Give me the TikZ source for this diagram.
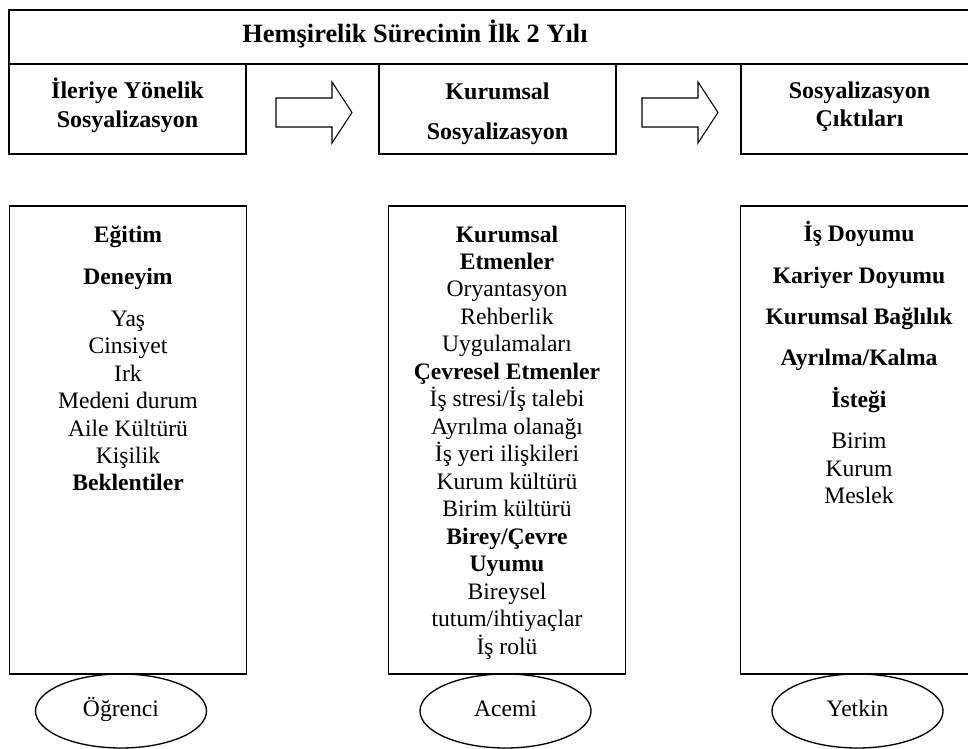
\documentclass[tikz,border=0pt]{standalone}
\usepackage{fontspec}
\setmainfont{Liberation Serif}
\usetikzlibrary{shapes.geometric}

\begin{document}
\begin{tikzpicture}[x=0.75pt,y=-0.75pt,line width=1pt,
  frame/.style={draw,inner sep=0pt,minimum width=177.75pt},
  headbox/.style={frame,minimum height=67.5pt},
  listbox/.style={frame,minimum height=351pt},
  stage/.style={draw,ellipse,inner sep=0pt,minimum width=128.25pt,minimum height=55.5pt,text height=12pt,text depth=3.5pt,font=\fontsize{17.7}{20.6}\selectfont},
  headtxt/.style={anchor=north,inner sep=0pt,align=center,font=\fontsize{18}{21.5}\selectfont\bfseries},
  listtxt/.style={anchor=north,inner sep=0pt,align=center,font=\fontsize{17.7}{20.6}\selectfont},
  blockarr/.style={draw,line width=0.8pt,fill=white}]
  \useasboundingbox (0,0) rectangle (968,749);

  % title bar
  \node[frame,minimum width=726.75pt,minimum height=40.5pt] (titlebox) at (493.5,37) {};
  \node[anchor=base,inner sep=0pt,font=\fontsize{19.8}{23}\selectfont\bfseries] (titletxt) at (415,43) {Hemşirelik Sürecinin İlk 2 Yılı};

  % phase headers
  \node[headbox] (h1) at (127.5,109) {};
  \node[headbox] (h2) at (497.5,109) {};
  \node[headbox] (h3) at (859.5,109) {};
  \node[headtxt] (h1txt) at (127.5,77.6) {İleriye Yönelik\\Sosyalizasyon};
  \node[headtxt] (h2txt) at (497.5,81.8) {Kurumsal\\[8.5pt]Sosyalizasyon};
  \node[headtxt] (h3txt) at (859.5,80.8) {Sosyalizasyon\\Çıktıları};
  \foreach \ax in {276,642}
    \draw[blockarr] (\ax,98) -- (\ax+56,98) -- (\ax+56,82) -- (\ax+76,112.5) -- (\ax+56,143) -- (\ax+56,127) -- (\ax,127) -- cycle;

  % factor lists
  \node[listbox] (l1) at (128,440) {};
  \node[listbox] (l2) at (507,440) {};
  \node[listbox] (l3) at (859,440) {};
  \node[listtxt] (l1txt) at (128,224.9) {\textbf{Eğitim}\\[10.9pt]\textbf{Deneyim}\\[10.9pt]Yaş\\Cinsiyet\\Irk\\Medeni durum\\Aile Kültürü\\Kişilik\\\textbf{Beklentiler}};
  \node[listtxt] (l2txt) at (507,225) {\textbf{Kurumsal}\\\textbf{Etmenler}\\Oryantasyon\\Rehberlik\\Uygulamaları\\\textbf{Çevresel Etmenler}\\İş stresi/İş talebi\\Ayrılma olanağı\\İş yeri ilişkileri\\Kurum kültürü\\Birim kültürü\\\textbf{Birey/Çevre}\\\textbf{Uyumu}\\Bireysel\\tutum/ihtiyaçlar\\İş rolü};
  \node[listtxt] (l3txt) at (859,221) {\textbf{İş Doyumu}\\[10.4pt]\textbf{Kariyer Doyumu}\\[10.4pt]\textbf{Kurumsal Bağlılık}\\[10.4pt]\textbf{Ayrılma/Kalma}\\[10.4pt]\textbf{İsteği}\\[10.4pt]Birim\\Kurum\\Meslek};

  % stages
  \node[stage] (s1) at (121,711) {Öğrenci};
  \node[stage] (s2) at (505.5,711) {Acemi};
  \node[stage] (s3) at (857.5,711) {Yetkin};
\end{tikzpicture}
\end{document}
